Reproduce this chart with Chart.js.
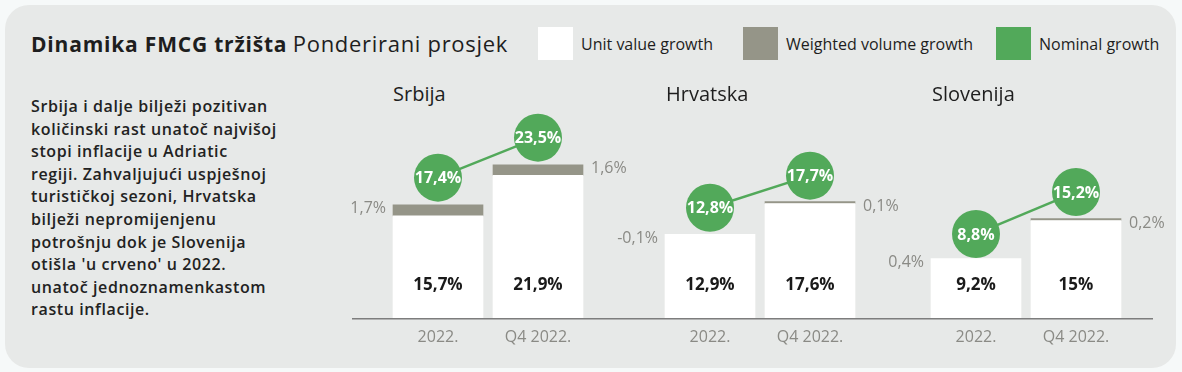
<!DOCTYPE html>
<html>
<head>
<meta charset="utf-8">
<script src="https://cdn.jsdelivr.net/npm/chart.js@4.4.0/dist/chart.umd.min.js"></script>
<style>
  body { margin: 0; width: 1182px; height: 372px; background: #f6f9f9; font-family: 'Open Sans', sans-serif; position: relative; overflow: hidden; }
  .panel { position: absolute; left: 5px; top: 5px; width: 1171px; height: 363px; background: #e7e9e8; border-radius: 24px; }
  .title { position: absolute; left: 31px; top: 28px; font-size: 21px; color: #1e1e1e; white-space: nowrap; }
  .title b { font-weight: 700; letter-spacing: 0.8px; }
  .title span { font-size: 22px; letter-spacing: 0.7px; }
  .legend { position: absolute; top: 27px; height: 33px; display: flex; align-items: center; font-size: 16px; font-weight: 500; color: #1e1e1e; white-space: nowrap; }
  .legend span.sw { display: inline-block; width: 35px; height: 33px; margin-right: 8px; }
  .note { position: absolute; left: 31px; top: 95px; margin: 0; font-size: 16px; font-weight: 600; line-height: 22.6px; letter-spacing: 0.6px; color: #222; white-space: nowrap; }
  .country { position: absolute; top: 80px; font-size: 20px; color: #1e1e1e; }
  canvas { position: absolute; top: 100px; }
</style>
</head>
<body>
<div class="panel"></div>
<div class="title"><b>Dinamika FMCG tržišta</b> <span>Ponderirani prosjek</span></div>
<div class="legend" style="left:538px"><span class="sw" style="background:#ffffff"></span>Unit value growth</div>
<div class="legend" style="left:743px"><span class="sw" style="background:#959588"></span>Weighted volume growth</div>
<div class="legend" style="left:996px"><span class="sw" style="background:#52a95a"></span>Nominal growth</div>
<p class="note">Srbija i dalje bilježi pozitivan<br>količinski rast unatoč najvišoj<br>stopi inflacije u Adriatic<br>regiji. Zahvaljujući uspješnoj<br>turističkoj sezoni, Hrvatska<br>bilježi nepromijenjenu<br>potrošnju dok je Slovenija<br>otišla 'u crveno' u 2022.<br>unatoč jednoznamenkastom<br>rastu inflacije.</p>

<script>
// data
const countries = ['Srbija', 'Hrvatska', 'Slovenija'];
const periods = ['2022.', 'Q4 2022.'];
const unitValue = [[15.7, 21.9], [12.9, 17.6], [9.2, 15]];
const volume = [[1.7, 1.6], [-0.1, 0.1], [-0.4, 0.2]];
const volumeLabels = [['1,7%', '1,6%'], ['-0,1%', '0,1%'], ['0,4%', '0,2%']];
const nominal = [[17.4, 23.5], [12.8, 17.7], [8.8, 15.2]];

const fmt = v => String(v).replace('.', ',') + '%';

// canvas placement for each country block (baseline segment left/width)
const blocks = [
  { left: 352, width: 272, padL: 36, padR: 36, titleX: 393 },
  { left: 624, width: 269, padL: 36, padR: 33, titleX: 666 },
  { left: 893, width: 260, padL: 33, padR: 27, titleX: 932 },
];
const EXT = 50; // extra room either side so side labels are not clipped

const YMAX = 33.4;   // 6.5 px per percent point
const LIFT = 4.15;   // circles sit above their value

const GREEN = '#52a95a';
const GREY = '#959588';
const TXT_GREY = '#8a8a85';

const labelPlugin = {
  id: 'labels',
  afterDatasetsDraw(chart) {
    const ctx = chart.ctx;
    const i = chart.options.plugins.labels.idx;
    const y = chart.scales.y;
    const y0 = y.getPixelForValue(0);

    // baseline
    ctx.save();
    ctx.strokeStyle = '#7d7d7d';
    ctx.lineWidth = 1.5;
    ctx.beginPath();
    ctx.moveTo(EXT, y0);
    ctx.lineTo(chart.width - EXT, y0);
    ctx.stroke();

    const bars = chart.getDatasetMeta(0).data;
    ctx.textBaseline = 'middle';

    // unit value inside white bars
    ctx.fillStyle = '#1a1a1a';
    ctx.font = '700 17px "Open Sans"';
    ctx.textAlign = 'center';
    bars.forEach((b, j) => ctx.fillText(fmt(unitValue[i][j]), b.x, y0 - 34));

    // volume labels beside the bars
    ctx.fillStyle = TXT_GREY;
    ctx.font = '400 16px "Open Sans"';
    bars.forEach((b, j) => {
      const top = y.getPixelForValue(unitValue[i][j] + Math.max(volume[i][j], 0)) + 4;
      if (j === 0) {
        ctx.textAlign = 'right';
        ctx.fillText(volumeLabels[i][j], b.x - b.width / 2 - 7, top);
      } else {
        ctx.textAlign = 'left';
        ctx.fillText(volumeLabels[i][j], b.x + b.width / 2 + 8, top);
      }
    });

    // nominal inside circles
    ctx.fillStyle = '#ffffff';
    ctx.font = '700 16px "Open Sans"';
    ctx.textAlign = 'center';
    chart.getDatasetMeta(2).data.forEach((p, j) => ctx.fillText(fmt(nominal[i][j]), p.x, p.y + 1));
    ctx.restore();
  }
};

countries.forEach((name, i) => {
  const b = blocks[i];
  const title = document.createElement('div');
  title.className = 'country';
  title.style.left = b.titleX + 'px';
  title.textContent = name;
  document.body.appendChild(title);

  const canvas = document.createElement('canvas');
  canvas.width = b.width + 2 * EXT;
  canvas.height = 271;
  canvas.style.left = (b.left - EXT) + 'px';
  document.body.appendChild(canvas);

  new Chart(canvas, {
    type: 'bar',
    data: {
      labels: periods,
      datasets: [
        {
          label: 'Unit value growth',
          data: unitValue[i],
          backgroundColor: '#ffffff',
          barThickness: 90,
          order: 1,
        },
        {
          label: 'Weighted volume growth',
          data: volume[i].map(v => (v > 0 ? v : null)),
          backgroundColor: GREY,
          barThickness: 90,
          minBarLength: 2,
          order: 2,
        },
        {
          type: 'line',
          label: 'Nominal growth',
          data: nominal[i],
          yAxisID: 'y2',
          borderColor: GREEN,
          borderWidth: 2.5,
          pointRadius: 24,
          pointHoverRadius: 24,
          pointBackgroundColor: GREEN,
          pointBorderWidth: 0,
          clip: false,
          order: 0,
        },
      ],
    },
    options: {
      responsive: false,
      animation: false,
      layout: {
        autoPadding: false,
        padding: { left: b.padL + EXT, right: b.padR + EXT, top: 0, bottom: 15 },
      },
      plugins: {
        legend: { display: false },
        tooltip: { enabled: false },
        labels: { idx: i },
      },
      scales: {
        x: {
          stacked: true,
          grid: { display: false, drawTicks: false },
          border: { display: false },
          ticks: { color: TXT_GREY, font: { family: 'Open Sans', size: 16 }, padding: 9 },
        },
        y: { stacked: true, display: false, min: 0, max: YMAX },
        y2: { display: false, min: -LIFT, max: YMAX - LIFT },
      },
    },
    plugins: [labelPlugin],
  });
});
</script>
</body>
</html>
